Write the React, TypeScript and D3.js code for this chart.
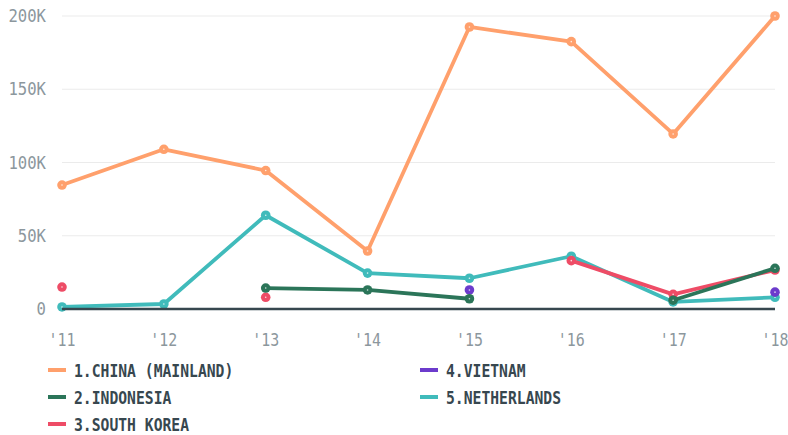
import { useEffect, useRef } from "react";
import * as d3 from "d3";

const W = 788;
const H = 435;
const M = { top: 16, right: 13, bottom: 126, left: 62 };

const years = ["'11", "'12", "'13", "'14", "'15", "'16", "'17", "'18"];
const yTicks = [0, 50000, 100000, 150000, 200000];

const china = [84600, 109000, 94500, 39600, 192500, 182500, 119500, 200000];
const indonesia = [null, null, 14300, 13000, 7000, null, 6000, 27800];
const southKorea = [15000, null, 8000, null, null, 33000, 10000, 26600];
const vietnam = [null, null, null, null, 13000, null, null, 11500];
const netherlands = [1400, 3400, 64000, 24500, 21000, 36000, 4800, 8000];

const names = ["1.CHINA (MAINLAND)", "2.INDONESIA", "3.SOUTH KOREA", "4.VIETNAM", "5.NETHERLANDS"];
const colors = ["#ffa06c", "#2b7559", "#ee4c66", "#6c3bcc", "#40bbbb"];
const seriesData = [china, indonesia, southKorea, vietnam, netherlands];
// draw order, later on top
const drawOrder = [0, 4, 3, 2, 1];

export default function App() {
  const ref = useRef<SVGSVGElement>(null);

  useEffect(() => {
    if (!ref.current) return;
    const root = d3.select(ref.current);
    root.selectAll("*").remove();

    const iw = W - M.left - M.right;
    const ih = H - M.top - M.bottom;

    const x = d3.scalePoint<string>().domain(years).range([0, iw]);
    const y = d3.scaleLinear().domain([0, 200000]).range([ih, 0]);

    const g = root.append("g").attr("transform", `translate(${M.left},${M.top})`);
    const font = "'DejaVu Sans Mono', monospace";

    // grid
    g.append("g")
      .selectAll("line")
      .data(yTicks.filter((t) => t > 0))
      .join("line")
      .attr("x1", 0)
      .attr("x2", iw)
      .attr("y1", (d) => y(d))
      .attr("y2", (d) => y(d))
      .attr("stroke", "#ebebeb")
      .attr("stroke-width", 1.2);

    const yLabel = (d: number) => (d === 0 ? "0" : `${d / 1000}K`);

    // y labels
    g.append("g")
      .selectAll("text")
      .data(yTicks)
      .join("text")
      .attr("x", -16)
      .attr("y", (d) => y(d) + 6)
      .attr("text-anchor", "end")
      .attr("font-family", font)
      .attr("font-size", 17)
      .attr("textLength", (d) => yLabel(d).length * 9.4)
      .attr("lengthAdjust", "spacingAndGlyphs")
      .attr("fill", "#8c979d")
      .text(yLabel);

    // x labels
    g.append("g")
      .selectAll("text")
      .data(years)
      .join("text")
      .attr("x", (d) => x(d)!)
      .attr("y", ih + 37)
      .attr("text-anchor", "middle")
      .attr("font-family", font)
      .attr("font-size", 17)
      .attr("textLength", (d) => d.length * 9)
      .attr("lengthAdjust", "spacingAndGlyphs")
      .attr("fill", "#8c979d")
      .text((d) => d);

    const line = d3
      .line<number | null>()
      .defined((d) => d != null)
      .x((_, i) => x(years[i])!)
      .y((d) => y(d as number));

    drawOrder.forEach((si) => {
      const vals = seriesData[si];
      g.append("path")
        .datum(vals)
        .attr("d", line)
        .attr("fill", "none")
        .attr("stroke", colors[si])
        .attr("stroke-width", 3.8)
        .attr("stroke-linejoin", "round");

      const pts = vals
        .map((v, i) => ({ v, i }))
        .filter((p) => p.v != null);
      g.append("g")
        .selectAll("circle")
        .data(pts)
        .join("circle")
        .attr("cx", (p) => x(years[p.i])!)
        .attr("cy", (p) => y(p.v as number))
        .attr("r", 4.8)
        .attr("fill", colors[si]);
      g.append("g")
        .selectAll("circle")
        .data(pts)
        .join("circle")
        .attr("cx", (p) => x(years[p.i])!)
        .attr("cy", (p) => y(p.v as number))
        .attr("r", 0.8)
        .attr("fill", "#fff")
        .attr("opacity", 0.8);
    });

    // zero baseline
    g.append("line")
      .attr("x1", 0)
      .attr("x2", iw)
      .attr("y1", y(0))
      .attr("y2", y(0))
      .attr("stroke", "#37474f")
      .attr("stroke-width", 2.5);

    // legend
    const legend = root.append("g");
    names.forEach((name, i) => {
      const col = i < 3 ? 0 : 1;
      const row = i < 3 ? i : i - 3;
      const lx = col === 0 ? 48 : 420;
      const ly = 370 + row * 27;
      legend
        .append("line")
        .attr("x1", lx)
        .attr("x2", lx + 18)
        .attr("y1", ly)
        .attr("y2", ly)
        .attr("stroke", colors[i])
        .attr("stroke-width", 4);
      legend
        .append("text")
        .attr("x", lx + 26)
        .attr("y", ly + 6.5)
        .attr("font-family", font)
        .attr("font-size", 17.5)
        .attr("font-weight", "bold")
        .attr("textLength", name.length * 8.85)
        .attr("lengthAdjust", "spacingAndGlyphs")
        .attr("fill", "#37474f")
        .text(name);
    });
  }, []);

  return (
    <svg
      ref={ref}
      width={W}
      height={H}
      viewBox={`0 0 ${W} ${H}`}
      style={{ position: "absolute", left: 0, top: 0 }}
    />
  );
}
